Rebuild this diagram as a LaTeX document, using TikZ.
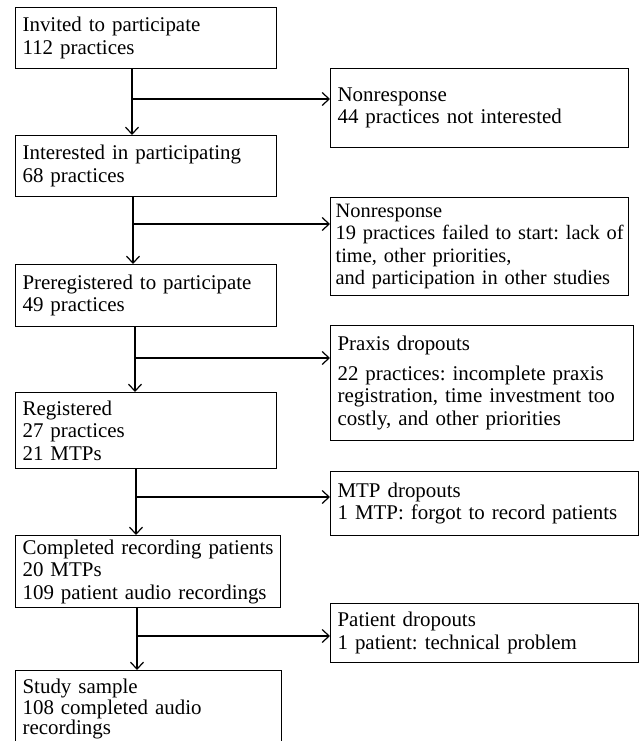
\documentclass[tikz,border=0pt]{standalone}
\usepackage{fontspec}
\setmainfont{Liberation Serif}
\frenchspacing
\usetikzlibrary{arrows.meta}
\tikzset{
  box/.style={draw, line width=1.2bp, anchor=north west, align=left,
    inner xsep=7bp, inner ysep=4bp, font=\frenchspacing\fontsize{21}{22.5}\selectfont},
  conn/.style={line width=1.2bp, -{Straight Barb[length=7bp,width=13bp]}}
}
\begin{document}
\begin{tikzpicture}[x=1bp,y=-1bp]
\useasboundingbox (0,0) rectangle (639,741);
% main column
\node[box, text width=247bp, minimum height=61bp] (B1) at (15,7) {Invited to participate\\112 practices};
\node[box, text width=247bp, minimum height=61bp] (B2) at (15,135) {Interested in participating\\68 practices};
\node[box, text width=247bp, minimum height=62bp] (B3) at (15,264) {Preregistered to participate\\49 practices};
\node[box, text width=247bp, minimum height=76bp] (B4) at (15,392) {Registered\\27 practices\\21 MTPs};
\node[box, text width=251bp, minimum height=72bp] (B5) at (15,535) {Completed recording patients\\20 MTPs\\109 patient audio recordings};
\node[box, text width=252bp, inner ysep=8bp, font=\frenchspacing\fontsize{21}{20}\selectfont] (B6) at (15,670) {\strut Study sample\\108 completed audio\\recordings\strut};
% side boxes
\node[box, text width=284bp, minimum height=79bp] (R1) at (330,68) {Nonresponse\\44 practices not interested};
\node[box, inner xsep=5bp, text width=288bp, minimum height=98bp, font=\frenchspacing\fontsize{20.5}{22.5}\selectfont] (R2) at (330,197) {Nonresponse\\\mbox{19 practices failed to start: lack of}\\time, other priorities,\\and participation in other studies};
\node[box, text width=289bp, minimum height=115bp] (R3) at (330,325) {Praxis dropouts\\[7bp]22 practices: incomplete praxis\\registration, time investment too\\costly, and other priorities};
\node[box, text width=294bp, minimum height=64bp] (R4) at (330,471) {MTP dropouts\\1 MTP: forgot to record patients};
\node[box, text width=294bp, minimum height=59bp] (R5) at (330,603) {Patient dropouts\\1 patient: technical problem};
% junctions
\coordinate (j1) at (132,99);
\coordinate (j2) at (133,224);
\coordinate (j3) at (135,358);
\coordinate (j4) at (136,497);
\coordinate (j5) at (137,636);
\draw[conn] (j1 |- B1.south) -- (j1 |- B2.north);
\draw[conn] (j1) -- (j1 -| R1.west);
\draw[conn] (j2 |- B2.south) -- (j2 |- B3.north);
\draw[conn] (j2) -- (j2 -| R2.west);
\draw[conn] (j3 |- B3.south) -- (j3 |- B4.north);
\draw[conn] (j3) -- (j3 -| R3.west);
\draw[conn] (j4 |- B4.south) -- (j4 |- B5.north);
\draw[conn] (j4) -- (j4 -| R4.west);
\draw[conn] (j5 |- B5.south) -- (j5 |- B6.north);
\draw[conn] (j5) -- (j5 -| R5.west);
\end{tikzpicture}
\end{document}
